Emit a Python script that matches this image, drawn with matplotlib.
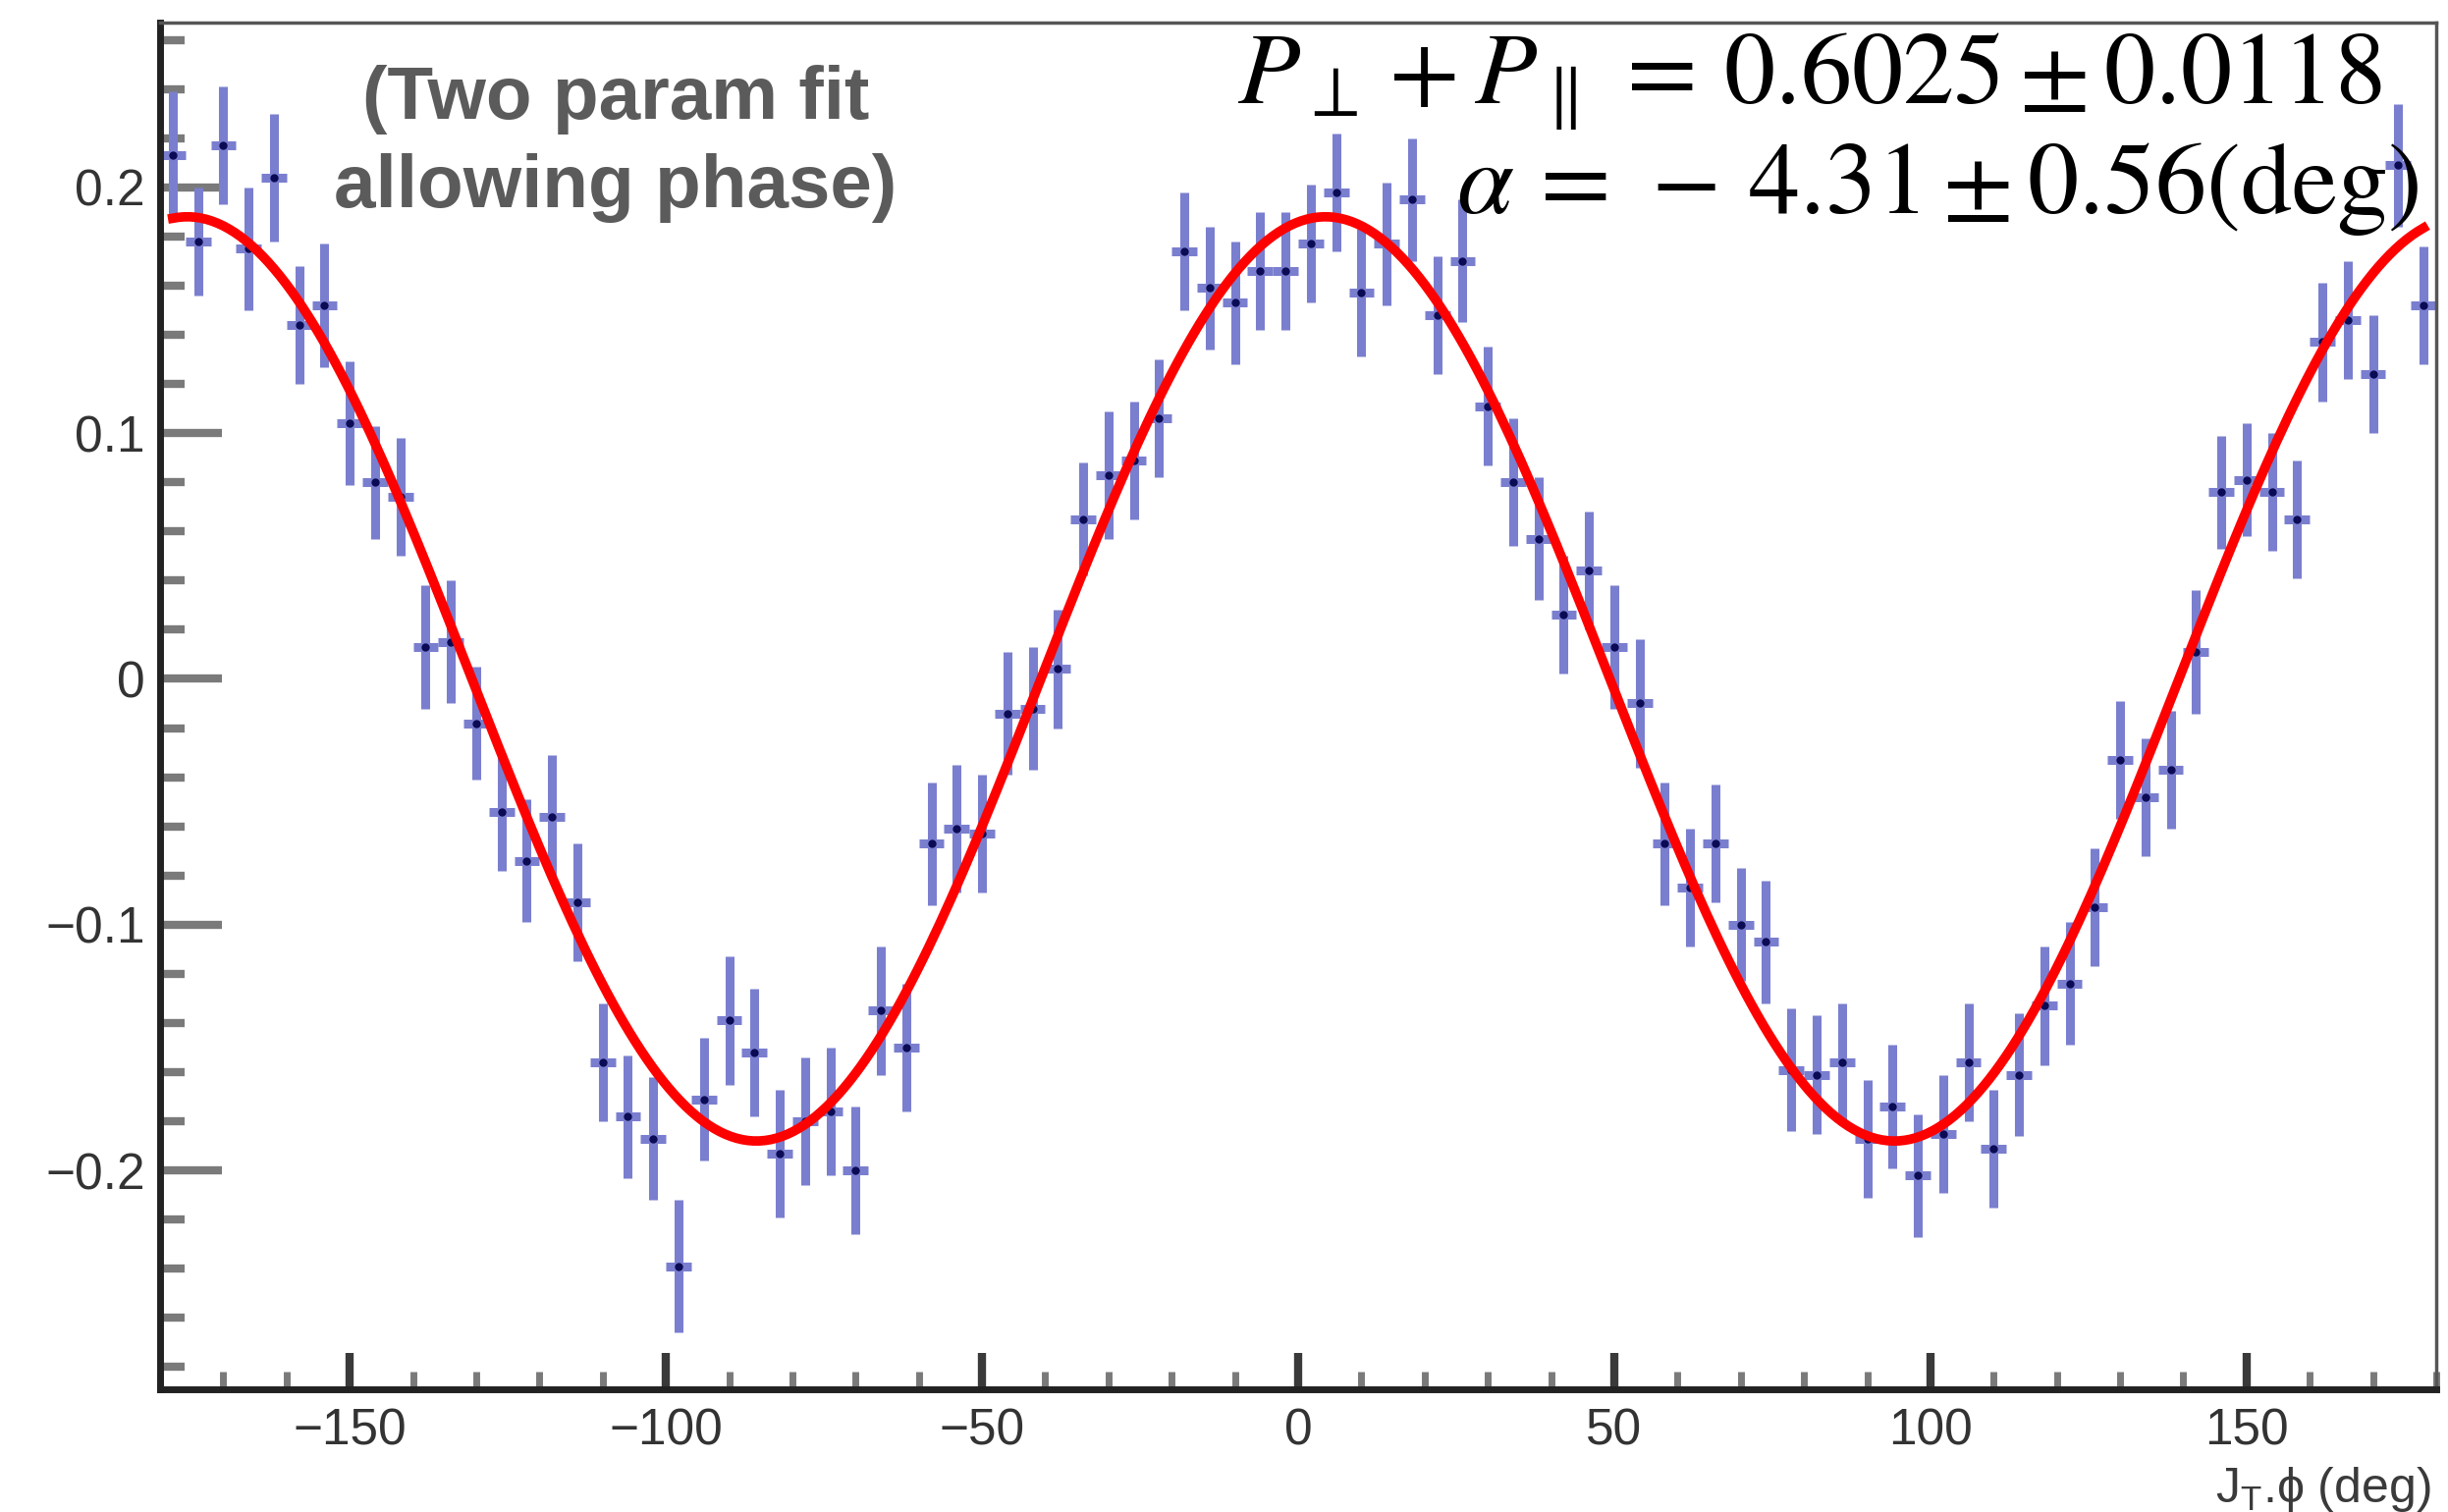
import numpy as np
import matplotlib
matplotlib.use("Agg")
import matplotlib.pyplot as plt
from matplotlib.ticker import MultipleLocator, FixedLocator

plt.rcParams['font.family'] = ['Liberation Sans', 'DejaVu Sans']
plt.rcParams['mathtext.fontset'] = 'stix'

# bin centres (deg) and measured asymmetry with errors
phi = np.arange(-178, 180, 4)
asym = [0.213, 0.178, 0.217, 0.175, 0.204, 0.144, 0.152, 0.104, 0.080, 0.074,
        0.013, 0.015, -0.018, -0.054, -0.074, -0.056, -0.091, -0.156, -0.178, -0.187,
        -0.239, -0.171, -0.139, -0.152, -0.193, -0.180, -0.176, -0.200, -0.135, -0.150,
        -0.067, -0.061, -0.063, -0.014, -0.012, 0.004, 0.065, 0.083, 0.089, 0.106,
        0.174, 0.159, 0.153, 0.166, 0.166, 0.177, 0.198, 0.157, 0.177, 0.195,
        0.148, 0.170, 0.111, 0.080, 0.057, 0.026, 0.044, 0.013, -0.010, -0.067,
        -0.085, -0.067, -0.100, -0.107, -0.159, -0.161, -0.156, -0.187, -0.174, -0.202,
        -0.185, -0.156, -0.191, -0.161, -0.133, -0.124, -0.093, -0.033, -0.048, -0.037,
        0.011, 0.076, 0.081, 0.076, 0.065, 0.137, 0.146, 0.124, 0.209, 0.152]
err = [0.026, 0.022, 0.024, 0.025, 0.026, 0.024, 0.025, 0.025, 0.023, 0.024,
       0.025, 0.025, 0.023, 0.024, 0.025, 0.025, 0.024, 0.024, 0.025, 0.025,
       0.027, 0.025, 0.026, 0.026, 0.026, 0.026, 0.026, 0.026, 0.026, 0.026,
       0.025, 0.026, 0.024, 0.025, 0.025, 0.024, 0.023, 0.026, 0.024, 0.024,
       0.024, 0.025, 0.025, 0.024, 0.024, 0.024, 0.024, 0.026, 0.025, 0.025,
       0.024, 0.025, 0.024, 0.026, 0.025, 0.024, 0.024, 0.025, 0.026, 0.025,
       0.024, 0.024, 0.023, 0.025, 0.025, 0.024, 0.024, 0.024, 0.025, 0.025,
       0.024, 0.024, 0.024, 0.025, 0.024, 0.025, 0.024, 0.024, 0.024, 0.024,
       0.025, 0.023, 0.023, 0.024, 0.024, 0.024, 0.024, 0.024, 0.025, 0.024]
bin_half = 2.0

# fit result
amp = 0.188
alpha = -4.31
fit_lo, fit_hi = -178, 178

y_ticks = [-0.2, -0.1, 0, 0.1, 0.2]
y_labels = ['\u22120.2', '\u22120.1', '0', '0.1', '0.2']
x_ticks = [-150, -100, -50, 0, 50, 100, 150]

W, H = 2493, 1540
fig = plt.figure(figsize=(W / 100, H / 100), dpi=100)
ax = fig.add_axes([163 / W, 1 - 1415 / H, (2481 - 163) / W, (1415 - 23) / H])

ax.errorbar(phi, asym, yerr=err, xerr=bin_half, fmt='o', ms=5, mfc='#0b0b55', mec='#0b0b55',
            ecolor='#7a7ecf', elinewidth=6.5, capsize=0, zorder=2)

xf = np.linspace(fit_lo, fit_hi, 400)
ax.plot(xf, amp * np.cos(np.radians(2 * (xf + alpha))), color='#ff0000', lw=7, zorder=3)

ax.set_xlim(-180, 180)
ax.set_ylim(-0.289, 0.267)

ax.xaxis.set_major_locator(FixedLocator(x_ticks))
ax.xaxis.set_minor_locator(MultipleLocator(10))
ax.set_xticklabels(['\u2212150', '\u2212100', '\u221250', '0', '50', '100', '150'])
ax.yaxis.set_major_locator(FixedLocator(y_ticks))
ax.set_yticklabels(y_labels)
ax.yaxis.set_minor_locator(MultipleLocator(0.02))

ax.tick_params(axis='x', which='major', direction='in', length=27, width=6, color='#3a3a3a',
               labelsize=37, labelcolor='#333333', pad=13)
ax.tick_params(axis='x', which='minor', direction='in', length=13, width=5, color='#7a7a7a')
ax.tick_params(axis='y', which='major', direction='in', length=45, width=6, color='#7a7a7a',
               labelsize=37, labelcolor='#333333', pad=11)
ax.tick_params(axis='y', which='minor', direction='in', length=18, width=6, color='#7a7a7a')
for t, v in zip(ax.yaxis.get_major_ticks(), y_ticks):
    if abs(v) == 0.2:
        t.tick1line.set_color('#222222')

for side in ['left', 'bottom']:
    ax.spines[side].set_linewidth(5)
    ax.spines[side].set_color('#222222')
for side in ['top', 'right']:
    ax.spines[side].set_linewidth(2.5)
    ax.spines[side].set_color('#555555')

fig.text(627 / W, 1 - 121 / H, '(Two param fit', ha='center', va='baseline',
         fontsize=55, fontweight='bold', color='#5b5b5b')
fig.text(627 / W, 1 - 211 / H, 'allowing phase)', ha='center', va='baseline',
         fontsize=55, fontweight='bold', color='#5b5b5b')

fig.text(2425 / W, 1 - 105 / H, r'$P_{\perp} + P_{\parallel}\,=\,0.6025 \pm 0.0118$',
         ha='right', va='baseline', fontsize=75, color='black')
fig.text(2463 / W, 1 - 217 / H, r'$\alpha\,=\,-\,4.31 \pm 0.56\mathrm{(deg)}$',
         ha='right', va='baseline', fontsize=75, color='black')

fig.text(2476 / W, 1 - 1530 / H, 'J$_{\\mathregular{T}}$.\u03d5 (deg)', ha='right', va='baseline',
         fontsize=36, color='#3a3a3a', math_fontfamily='dejavusans')

fig.savefig('out.png', dpi=100, facecolor='white')
